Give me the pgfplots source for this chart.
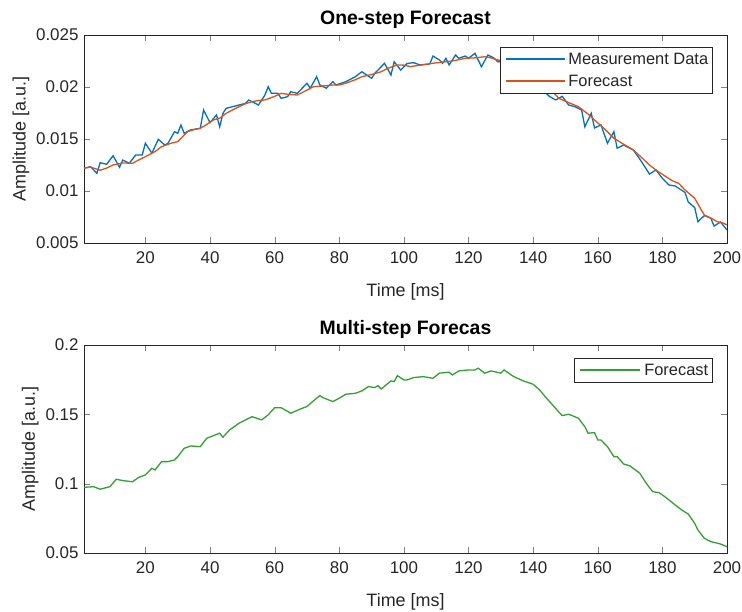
\documentclass[border=0pt]{standalone}
\usepackage{pgfplots}
\pgfplotsset{compat=1.18}
\usepackage{fontspec}
\setmainfont{Liberation Sans}
\definecolor{mblue}{rgb}{0,0.447,0.741}
\definecolor{morange}{rgb}{0.85,0.325,0.098}
\definecolor{mgreen}{RGB}{50,160,50}
\definecolor{axgray}{rgb}{0.15,0.15,0.15}

\pgfplotstableread{
t v
1 0.01218
3 0.01234
5 0.0117
6 0.01272
8 0.01257
10 0.01339
12 0.01228
13 0.01298
15 0.01266
17 0.01346
19 0.01346
20 0.01459
22 0.01363
24 0.01497
26 0.01442
27 0.01459
29 0.0157
30 0.01555
31 0.01635
32 0.01555
34 0.01587
37 0.01603
38 0.01779
40 0.01657
42 0.01731
43 0.01618
44 0.01747
45 0.01795
47 0.01811
49 0.01827
51 0.01843
52 0.01875
55 0.01827
57 0.01923
58 0.02003
59 0.01939
61 0.01939
62 0.01891
64 0.01907
65 0.01955
67 0.01939
70 0.02036
71 0.01988
73 0.02099
74 0.02019
76 0.01988
78 0.02051
79 0.02019
82 0.02051
85 0.02099
87 0.02147
90 0.02084
91 0.02132
94 0.02228
96 0.02115
97 0.02243
99 0.02163
101 0.02226
103 0.02234
105 0.02212
108 0.02221
109 0.02298
111 0.0226
112 0.02228
113 0.02276
114 0.02212
116 0.02308
117 0.02276
119 0.02298
120 0.02276
122 0.02324
124 0.02195
126 0.02308
128 0.02276
129 0.02243
131 0.0224
133 0.0221
135 0.0218
137 0.0213
139 0.0208
141 0.0203
143 0.0197
145 0.0191
147 0.01875
149 0.0191
151 0.01827
153 0.0181
155 0.01779
156 0.01618
158 0.01747
159 0.01606
161 0.01635
163 0.01459
165 0.0157
166 0.01411
168 0.01442
171 0.01394
173 0.01308
176 0.01163
178 0.01202
180 0.01122
182 0.01058
184 0.01048
187 0.00986
188 0.00894
190 0.00841
191 0.00705
193 0.00764
195 0.00738
196 0.00663
198 0.00702
200 0.00625
}\meas

\pgfplotstableread{
t v
1 0.0122
3 0.0123
6 0.0120
8 0.0122
10 0.0125
13 0.0127
16 0.01266
18 0.0130
20 0.0133
23 0.0138
25 0.01426
28 0.0146
30 0.01474
33 0.0157
35 0.0159
37 0.01603
39 0.0164
41 0.01683
43 0.0170
45 0.01747
47 0.0178
49 0.01811
51 0.0184
53 0.01859
55 0.0187
57 0.01875
60 0.0191
62 0.01939
64 0.0193
67 0.01923
70 0.0197
72 0.02003
75 0.0201
78 0.02019
80 0.0202
82 0.02036
85 0.0207
87 0.02099
90 0.0212
93 0.02147
95 0.0218
98 0.02212
100 0.0221
102 0.02196
105 0.0221
109 0.02228
112 0.0224
115 0.0225
119 0.02276
122 0.0228
125 0.02291
127 0.0228
129 0.0226
133 0.0224
137 0.0219
141 0.0210
145 0.0199
148 0.0189
151 0.0185
154 0.01811
157 0.0174
159 0.01683
162 0.0160
165 0.01507
168 0.0145
171 0.01394
174 0.0131
176 0.0125
178 0.01202
181 0.0114
183 0.0110
185 0.01074
187 0.0101
190 0.0093
192 0.0082
193 0.00769
195 0.0074
197 0.00705
199 0.0069
200 0.00673
}\fcone

\pgfplotstableread{
t v
1 0.0974
4 0.0978
6 0.0960
9 0.0978
11 0.1032
13 0.1022
16 0.1014
18 0.1046
20 0.1063
22 0.1111
23 0.1099
25 0.1159
27 0.1159
29 0.1171
30 0.1195
32 0.1255
34 0.1272
37 0.1267
39 0.1328
43 0.1364
44 0.1335
46 0.1387
49 0.1436
51 0.1460
53 0.1483
56 0.1460
58 0.1496
60 0.1548
62 0.1548
65 0.1508
68 0.1539
70 0.1556
72 0.1597
74 0.1635
75 0.1620
78 0.1592
80 0.1616
82 0.1645
85 0.1652
87 0.1669
89 0.1700
91 0.1693
92 0.1707
93 0.1683
96 0.1741
97 0.1736
98 0.1779
100 0.1748
101 0.1748
103 0.1765
106 0.1772
109 0.1760
111 0.1797
114 0.1804
115 0.1784
117 0.1813
120 0.1820
122 0.1820
123 0.1833
125 0.1797
127 0.1813
130 0.1797
131 0.1820
134 0.1772
137 0.1741
140 0.1717
142 0.1676
144 0.1620
146 0.1568
148 0.1515
149 0.1491
151 0.1501
154 0.1472
156 0.1411
157 0.1364
159 0.1368
160 0.1315
161 0.1315
163 0.1267
165 0.1195
166 0.1195
168 0.1142
170 0.1128
173 0.1075
175 0.1003
177 0.0942
179 0.0935
181 0.0902
184 0.0846
186 0.0810
188 0.0781
190 0.0714
191 0.0666
193 0.0606
195 0.0582
198 0.0565
200 0.0545
}\fcmulti

\pgfplotsset{
  mstyle/.style={
    scale only axis, width=643bp, height=208bp,
    xmin=1, xmax=200, xtick={20,40,...,200},
    scaled y ticks=false,
    tick align=inside, tick pos=both,
    major tick length=6bp,
    axis line style={axgray, line width=0.6bp},
    /pgf/number format/assume math mode=true,
    ticklabel style={font=\fontsize{17}{20}\selectfont, text=axgray},
    xticklabel style={yshift=-5bp},
    yticklabel style={xshift=-2bp},
    label style={font=\fontsize{18}{21}\selectfont, text=axgray},
    xlabel style={yshift=-13bp},
    title style={font=\bfseries\fontsize{19.5}{22}\selectfont, yshift=-3bp},
    xlabel={Time [ms]},
    ylabel={Amplitude [a.u.]},
  },
}
\tikzset{legtext/.style={anchor=west, inner sep=0pt, text=axgray,
    font=\fontsize{16.5}{19}\selectfont}}

\begin{document}
\begin{tikzpicture}
\path[use as bounding box] (-84bp,-369bp) rectangle (658bp,243bp);
\begin{axis}[mstyle, at={(0,0)},
  title={One-step Forecast},
  ymin=0.005, ymax=0.025,
  ytick={0.005,0.01,0.015,0.02,0.025},
  yticklabels={0.005,0.01,0.015,0.02,0.025}]
\addplot[draw=mblue, line width=1.3bp] table[x=t,y=v] {\meas};
\addplot[draw=morange, line width=1.3bp] table[x=t,y=v] {\fcone};
% legend
\draw[axgray, line width=0.6bp, fill=white]
  (rel axis cs:0.647,0.721) rectangle (rel axis cs:0.977,0.942);
\draw[mblue, line width=1.3bp]
  (rel axis cs:0.656,0.885) -- (rel axis cs:0.748,0.885);
\node[legtext] at (rel axis cs:0.753,0.885) {Measurement Data};
\draw[morange, line width=1.3bp]
  (rel axis cs:0.656,0.779) -- (rel axis cs:0.748,0.779);
\node[legtext] at (rel axis cs:0.753,0.779) {Forecast};
\end{axis}
\begin{axis}[mstyle, at={(0,-310bp)},
  title={Multi-step Forecas},
  ymin=0.05, ymax=0.2,
  ytick={0.05,0.1,0.15,0.2},
  yticklabels={0.05,0.1,0.15,0.2}]
\addplot[draw=mgreen, line width=1.3bp] table[x=t,y=v] {\fcmulti};
% legend
\draw[axgray, line width=0.6bp, fill=white]
  (rel axis cs:0.762,0.822) rectangle (rel axis cs:0.977,0.9375);
\draw[mgreen, line width=1.3bp]
  (rel axis cs:0.771,0.88) -- (rel axis cs:0.865,0.88);
\node[legtext] at (rel axis cs:0.871,0.88) {Forecast};
\end{axis}
\end{tikzpicture}
\end{document}
